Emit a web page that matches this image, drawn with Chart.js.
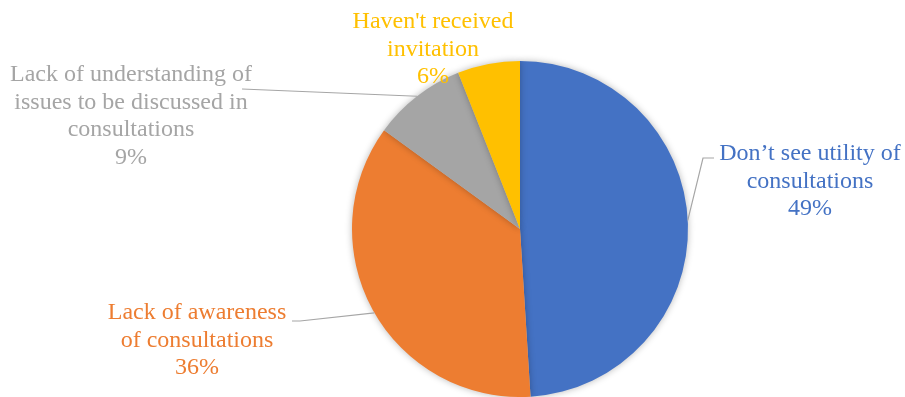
<!DOCTYPE html>
<html>
<head>
<meta charset="utf-8">
<script src="https://cdn.jsdelivr.net/npm/chart.js@4"></script>
<style>
  html, body { margin: 0; padding: 0; background: #fff; }
  #wrap { width: 905px; height: 397px; }
</style>
</head>
<body>
<div id="wrap"><canvas id="canvas"></canvas></div>
<script>
let razoes = [
  ['Don\u2019t see utility of', 'consultations'],
  ['Lack of awareness', 'of consultations'],
  ['Lack of understanding of', 'issues to be discussed in', 'consultations'],
  ['Haven\'t received', 'invitation']
];
let percentuais = [49, 36, 9, 6];
let cores = ['#4472C4', '#ED7D31', '#A5A5A5', '#FFC000'];

// onde fica cada rótulo (centro da primeira linha) e o cotovelo da linha guia
let rotulos = [
  { x: 810, y: 154, linha: [[703, 158], [714, 158]], ajuste: -0.02 },
  { x: 197, y: 313, linha: [[300, 321], [292, 321]], ajuste: -0.02 },
  { x: 131, y: 75, linha: [[242, 89]], ajuste: 0 },
  { x: 433, y: 22, linha: null, ajuste: 0 }
];
let alturaLinha = 27.5;

let sombra = {
  id: 'sombra',
  beforeDatasetDraw(chart) {
    let ctx = chart.ctx;
    ctx.save();
    ctx.shadowColor = 'rgba(0,0,0,0.28)';
    ctx.shadowBlur = 7;
    ctx.shadowOffsetX = 0;
    ctx.shadowOffsetY = 0;
  },
  afterDatasetDraw(chart) {
    chart.ctx.restore();
  }
};

let rotulosPlugin = {
  id: 'rotulos',
  afterDraw(chart) {
    let ctx = chart.ctx;
    let meta = chart.getDatasetMeta(0);
    ctx.save();
    for (let i = 0; i < meta.data.length; i++) {
      let arc = meta.data[i];
      let r = rotulos[i];
      // linha guia a partir da borda da fatia
      if (r.linha) {
        let a = (arc.startAngle + arc.endAngle) / 2 + r.ajuste;
        let px = arc.x + Math.cos(a) * arc.outerRadius;
        let py = arc.y + Math.sin(a) * arc.outerRadius;
        ctx.beginPath();
        ctx.moveTo(px, py);
        for (let p of r.linha) ctx.lineTo(p[0], p[1]);
        ctx.strokeStyle = '#A6A6A6';
        ctx.lineWidth = 1.2;
        ctx.stroke();
      }
      let linhas = razoes[i].concat([percentuais[i] + '%']);
      ctx.fillStyle = cores[i];
      ctx.font = '24px "Liberation Serif", "Times New Roman", serif';
      ctx.textAlign = 'center';
      ctx.textBaseline = 'middle';
      for (let j = 0; j < linhas.length; j++) {
        ctx.fillText(linhas[j], r.x, r.y + j * alturaLinha);
      }
    }
    ctx.restore();
  }
};

let configuracao = {
  type: 'pie',
  data: {
    labels: razoes.map(l => l.join(' ')),
    datasets: [{
      data: percentuais,
      backgroundColor: cores,
      borderWidth: 0
    }]
  },
  options: {
    responsive: true,
    maintainAspectRatio: false,
    animation: false,
    layout: {
      padding: { top: 61, bottom: 0, left: 352, right: 217 }
    },
    plugins: {
      legend: { display: false },
      tooltip: { enabled: false },
      title: { display: false }
    }
  },
  plugins: [sombra, rotulosPlugin]
};

let chart = new Chart(document.getElementById('canvas'), configuracao);
</script>
</body>
</html>
